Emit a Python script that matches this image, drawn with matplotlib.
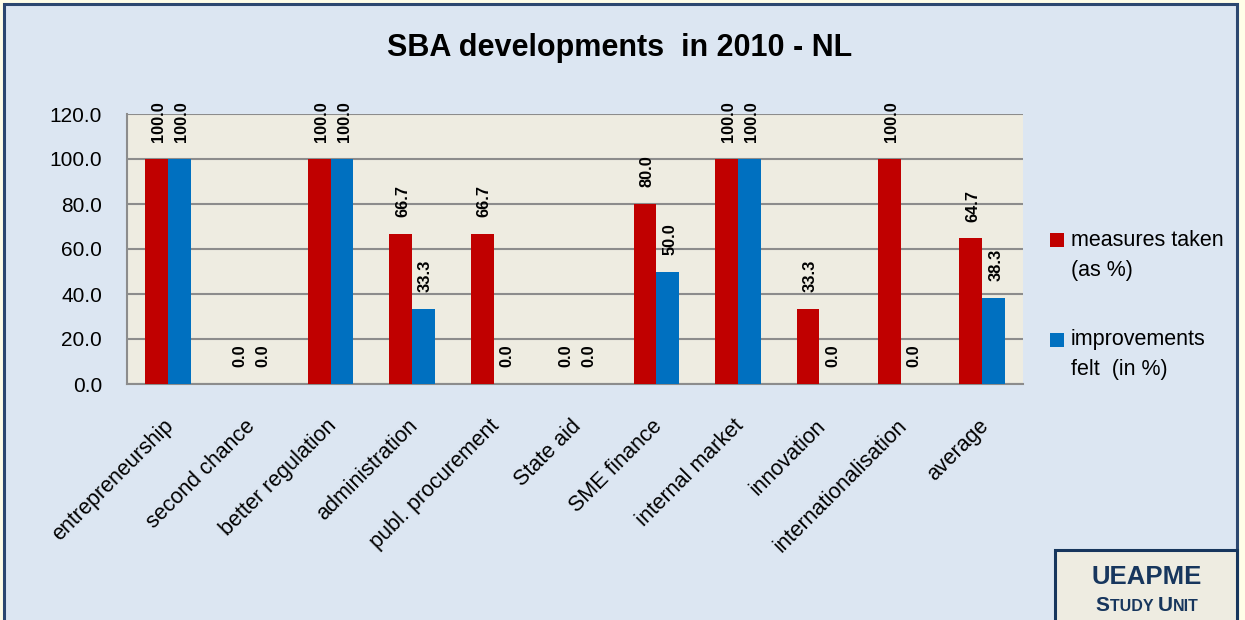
import matplotlib
matplotlib.use("Agg")
import matplotlib.pyplot as plt
import matplotlib.transforms as mtransforms
from matplotlib.patches import Rectangle
import numpy as np

categories = ["entrepreneurship", "second chance", "better regulation", "administration",
              "publ. procurement", "State aid", "SME finance", "internal market",
              "innovation", "internationalisation", "average"]
measures_taken = [100.0, 0.0, 100.0, 66.7, 66.7, 0.0, 80.0, 100.0, 33.3, 100.0, 64.7]
improvements_felt = [100.0, 0.0, 100.0, 33.3, 0.0, 0.0, 50.0, 100.0, 0.0, 0.0, 38.3]
yticks = [0, 20, 40, 60, 80, 100, 120]
title = "SBA developments  in 2010 - NL"

RED = "#C00000"
BLUE = "#0070C0"
PLOT_BG = "#EEECE1"
FIG_BG = "#DCE6F2"
NAVY = "#17365D"
GRID = "#8C8C8C"

plt.rcParams['font.family'] = ['Liberation Sans', 'DejaVu Sans']

fig = plt.figure(figsize=(12.45, 6.2), dpi=100)
fig.patch.set_facecolor("#FFFDE8")
# outer frame
fig.patches.append(Rectangle((4/1245, -0.05), 1233/1245, 1.05 - 4/620, transform=fig.transFigure,
                             facecolor=FIG_BG, edgecolor="#2C4770", linewidth=2.2, zorder=-5))

ax = fig.add_axes([127/1245, 1 - 384/620, (1023 - 127)/1245, (384 - 114)/620])
ax.set_facecolor(PLOT_BG)

x = np.arange(len(categories))
w = 0.28
b1 = ax.bar(x - w/2, measures_taken, w, color=RED, zorder=3)
b2 = ax.bar(x + w/2, improvements_felt, w, color=BLUE, zorder=3)

for bars, vals in ((b1, measures_taken), (b2, improvements_felt)):
    for r, v in zip(bars, vals):
        ax.annotate(f"{v:.1f}", (r.get_x() + r.get_width()/2, v), xytext=(1.5, 12),
                    textcoords="offset points", rotation=90, ha="center", va="bottom",
                    fontsize=11.8, fontweight="bold", zorder=4, annotation_clip=False)

ax.set_xlim(-0.5, len(categories) - 0.5)
ax.set_ylim(0, 120)
ax.set_yticks(yticks)
ax.set_yticklabels([f"{t:.1f}" for t in yticks], fontsize=15)
ax.yaxis.grid(True, color=GRID, linewidth=1.5, zorder=1)
ax.set_axisbelow(True)
ax.tick_params(axis="y", length=0, pad=18)
ax.tick_params(axis="x", length=0, pad=28)
ax.set_xticks(x)
ax.set_xticklabels(categories, fontsize=15.5, rotation=45, ha="right", va="center",
                   rotation_mode="anchor")
off = mtransforms.ScaledTranslation(3/100, 0, fig.dpi_scale_trans)
for lab in ax.get_xticklabels():
    lab.set_transform(lab.get_transform() + off)

for s in ("right", "top"):
    ax.spines[s].set_visible(False)
for s in ("left", "bottom"):
    ax.spines[s].set_color(GRID)
    ax.spines[s].set_linewidth(1.5)

fig.text(620/1245, 1 - 48/620, title, ha="center", va="center", fontsize=22, fontweight="bold")

# legend
def legend_entry(y_px, color, lines):
    fig.patches.append(Rectangle((1050/1245, 1 - (y_px + 7)/620), 14/1245, 14/620,
                                 transform=fig.transFigure, facecolor=color, edgecolor="none"))
    for i, t in enumerate(lines):
        fig.text(1071/1245, 1 - (y_px + 30*i)/620, t, ha="left", va="center", fontsize=15.5)

legend_entry(240, RED, ["measures taken", "(as %)"])
legend_entry(340, BLUE, ["improvements", "felt  (in %)"])

# UEAPME box
fig.patches.append(Rectangle((1055/1245, -0.05), 182/1245, 0.05 + (620 - 550)/620,
                             transform=fig.transFigure, facecolor=PLOT_BG, edgecolor=NAVY,
                             linewidth=2.2, zorder=1))
fig.text(1147/1245, 1 - 577/620, "UEAPME", ha="center", va="center", fontsize=18.5,
         fontweight="bold", color=NAVY)

pieces = [("S", 15), ("TUDY ", 11.5), ("U", 15), ("NIT", 11.5)]
renderer = fig.canvas.get_renderer()
texts = []
widths = []
for s, fs in pieces:
    t = fig.text(0, 1 - 611/620, s, ha="left", va="baseline", fontsize=fs,
                 fontweight="bold", color=NAVY)
    texts.append(t)
    widths.append(t.get_window_extent(renderer).width)
total = sum(widths)
xs = 1147 - total/2
for t, wd in zip(texts, widths):
    t.set_x(xs/1245)
    xs += wd

fig.savefig("out.png", dpi=100, facecolor=fig.get_facecolor())
